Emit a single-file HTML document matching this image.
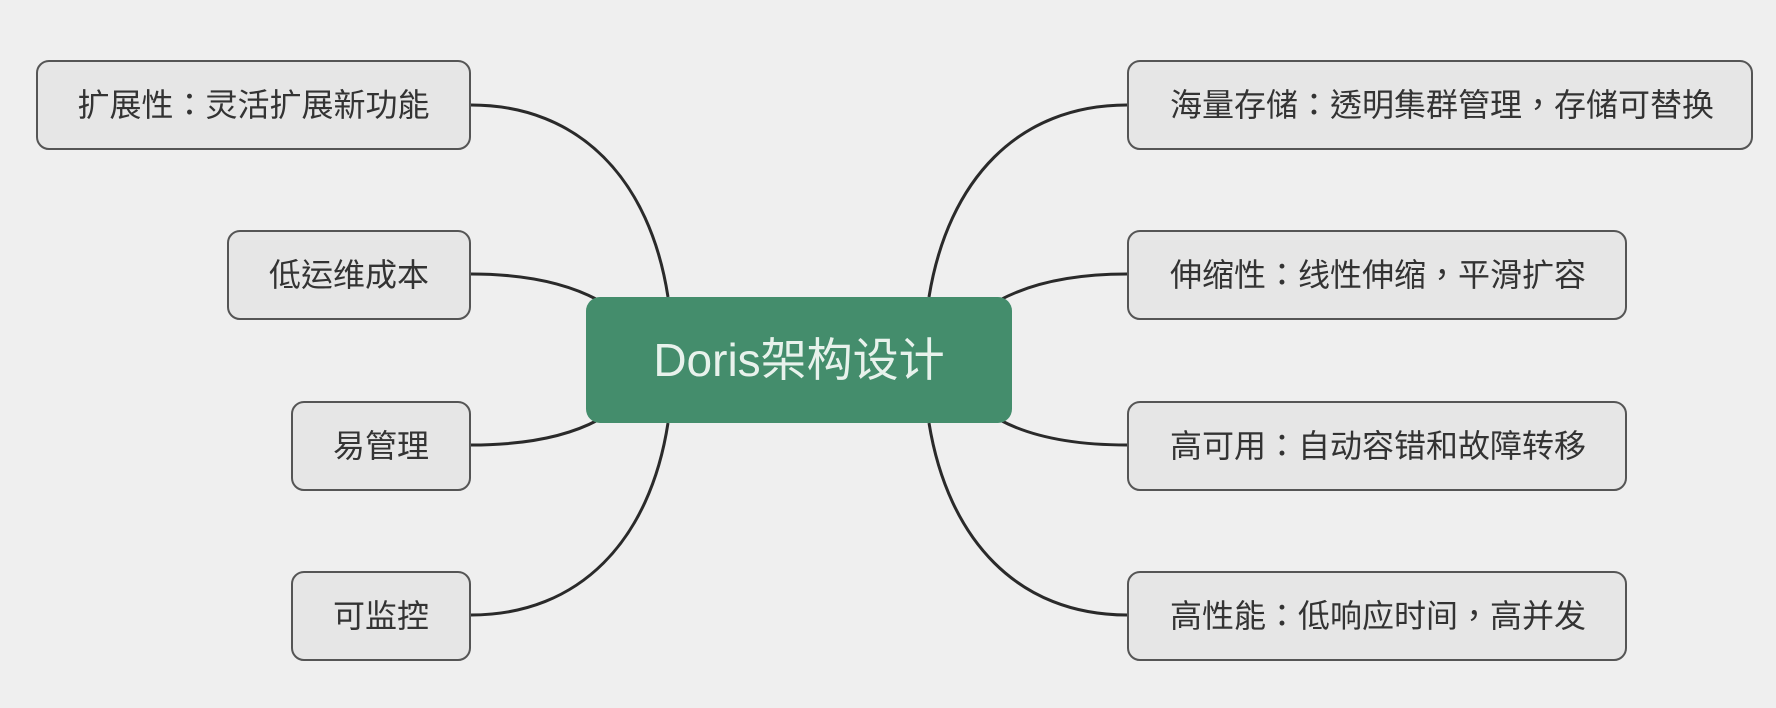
<!DOCTYPE html>
<html><head><meta charset="utf-8"><style>
html,body{margin:0;padding:0}
body{width:1776px;height:708px;background:#efefef;position:relative;overflow:hidden;font-family:"Liberation Sans","Noto Sans CJK TC",sans-serif}
.b{position:absolute;box-sizing:border-box;background:#e6e6e6;border:2px solid #555;border-radius:13px;color:#333;font-size:32px;line-height:86px;white-space:nowrap}
.l{text-align:center}
.r{padding-left:41px}
.c{position:absolute;left:586px;top:297px;width:426px;height:126px;background:#448d6c;border-radius:14px;color:#e8f2ec;font-size:46px;text-align:center;line-height:126px}
svg{position:absolute;left:0;top:0}
</style></head><body>
<svg width="1776" height="708"><g fill="none" stroke="#2a2a2a" stroke-width="3">
<path d="M471 105 C580 105 650 180 668 297"/>
<path d="M471 274 C530 274 570 285 598 300"/>
<path d="M471 445 C530 445 570 435 598 420"/>
<path d="M471 615 C580 615 650 540 668 423"/>
<path d="M1127 105 C1018 105 948 180 929 297"/>
<path d="M1127 274 C1068 274 1028 285 1000 300"/>
<path d="M1127 445 C1068 445 1028 435 1000 420"/>
<path d="M1127 615 C1018 615 948 540 929 423"/>
</g></svg>
<div class="b l" style="left:36px;top:60px;width:435px;height:90px">扩展性：灵活扩展新功能</div>
<div class="b l" style="left:227px;top:230px;width:244px;height:90px">低运维成本</div>
<div class="b l" style="left:291px;top:401px;width:180px;height:90px">易管理</div>
<div class="b l" style="left:291px;top:571px;width:180px;height:90px">可监控</div>
<div class="c">Doris架构设计</div>
<div class="b r" style="left:1127px;top:60px;width:626px;height:90px">海量存储：透明集群管理，存储可替换</div>
<div class="b r" style="left:1127px;top:230px;width:500px;height:90px">伸缩性：线性伸缩，平滑扩容</div>
<div class="b r" style="left:1127px;top:401px;width:500px;height:90px">高可用：自动容错和故障转移</div>
<div class="b r" style="left:1127px;top:571px;width:500px;height:90px">高性能：低响应时间，高并发</div>
</body></html>
